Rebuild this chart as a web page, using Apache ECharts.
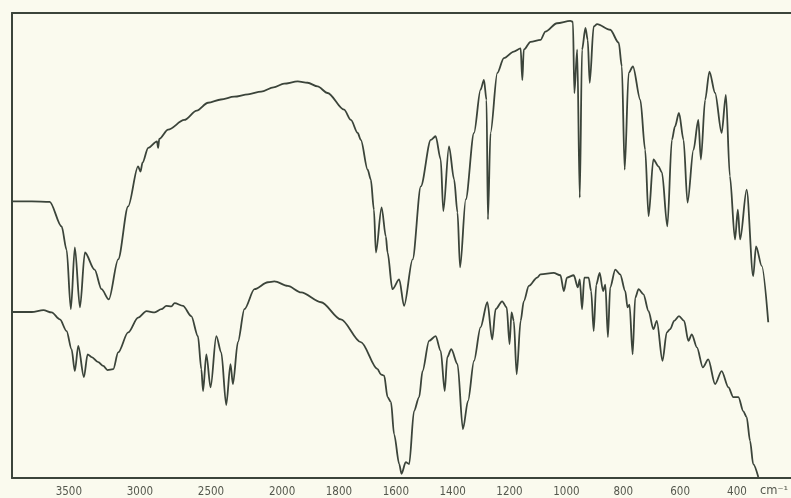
<!DOCTYPE html>
<html>
<head>
<meta charset="utf-8">
<script src="https://cdn.jsdelivr.net/npm/echarts@6/dist/echarts.min.js"></script>
<style>
  html, body { margin: 0; padding: 0; background: #fafaee; }
  #chart { width: 791px; height: 498px; }
</style>
</head>
<body>
<div id="chart"></div>
<script>
// wavenumber ticks printed under the chart (cm-1)
const tickWn = [3500, 3000, 2500, 2000, 1800, 1600, 1400, 1200, 1000, 800, 600, 400]

// upper trace: [wavenumber, transmittance %]
const upperTrace = [
  [3900, 59.5], [3761, 59.5], [3635, 59.4], [3551, 54.1], [3516, 49.1], [3486, 36.3],
  [3458, 49.6], [3422, 36.7], [3387, 48.5], [3319, 44.8], [3270, 40.6], [3219, 38.4],
  [3153, 47.0], [3083, 58.4], [3013, 67.0], [2996, 65.9], [2982, 67.8], [2942, 71.0],
  [2880, 72.4], [2872, 71.0], [2864, 72.9], [2802, 74.9], [2688, 77.0], [2600, 79.0],
  [2521, 80.7], [2430, 81.4], [2337, 82.0], [2240, 82.5], [2147, 83.1], [2060, 84.0],
  [1993, 84.8], [1945, 85.3], [1910, 85.0], [1875, 84.2], [1840, 82.8],
  [1782, 79.2], [1758, 77.0], [1734, 74.2], [1723, 72.7], [1699, 66.3], [1688, 64.2],
  [1677, 57.7], [1670, 48.5], [1650, 58.2], [1635, 51.9], [1629, 48.5], [1612, 40.6],
  [1588, 42.7], [1571, 37.0], [1541, 47.0], [1512, 62.7], [1477, 72.7], [1460, 73.5],
  [1442, 68.5], [1433, 57.4], [1413, 71.3], [1395, 64.2], [1383, 57.1], [1374, 45.3],
  [1354, 59.9], [1325, 74.2], [1302, 83.5], [1290, 85.6], [1281, 81.3], [1276, 55.6],
  [1267, 74.2], [1243, 87.1], [1220, 90.3], [1185, 91.7], [1161, 92.4], [1155, 85.6],
  [1150, 92.1], [1126, 93.8], [1091, 94.2], [1074, 96.0], [1033, 97.8], [986, 98.3],
  [977, 98.1], [972, 82.8], [962, 92.1], [953, 60.3], [945, 92.1], [933, 96.8],
  [925, 94.2], [918, 85.0], [904, 97.1], [892, 97.6], [846, 96.4], [816, 93.6],
  [805, 88.5], [795, 66.3], [781, 87.1], [766, 88.5], [740, 81.3], [723, 70.6],
  [711, 56.3], [694, 68.5], [676, 67.0], [664, 65.7], [645, 54.1], [629, 72.7],
  [618, 75.6], [604, 78.5], [588, 72.7], [574, 59.2], [553, 70.6], [536, 77.0],
  [527, 68.5], [512, 81.3], [497, 87.4], [477, 82.8], [454, 74.2], [439, 82.4],
  [425, 64.9], [407, 51.3], [397, 57.7], [389, 51.3], [366, 62.0], [343, 43.4],
  [333, 49.8], [313, 45.6], [290, 33.5]
]

// lower trace: [wavenumber, transmittance %]
const lowerTrace = [
  [3900, 35.7], [3761, 35.7], [3679, 36.1], [3621, 35.6], [3563, 34.1], [3516, 31.6],
  [3481, 27.7], [3458, 23.0], [3434, 28.4], [3394, 21.7], [3368, 26.6], [3340, 26.0],
  [3293, 24.9], [3258, 24.1], [3228, 23.2], [3188, 23.4], [3153, 27.0], [3083, 31.3],
  [3013, 34.5], [2954, 35.9], [2896, 35.6], [2849, 36.3], [2814, 37.0], [2779, 36.9],
  [2756, 37.6], [2697, 37.0], [2639, 34.8], [2592, 30.5], [2568, 23.4], [2556, 18.7],
  [2533, 26.6], [2503, 19.5], [2463, 30.5], [2428, 27.0], [2393, 15.7], [2363, 24.5],
  [2346, 20.2], [2311, 29.2], [2265, 36.3], [2194, 40.6], [2100, 42.1], [2054, 42.3],
  [1980, 41.3], [1933, 39.9], [1863, 37.8], [1793, 34.1], [1723, 29.2], [1664, 23.4],
  [1653, 22.3], [1641, 22.0], [1629, 17.4], [1617, 16.3], [1606, 9.4], [1588, 3.0],
  [1580, 0.9], [1565, 3.4], [1553, 3.0], [1536, 14.4], [1518, 17.4], [1506, 23.0],
  [1483, 29.5], [1460, 30.5], [1442, 27.3], [1428, 18.7], [1419, 26.0], [1405, 27.7],
  [1383, 24.5], [1364, 10.5], [1346, 16.6], [1325, 25.2], [1302, 32.4], [1278, 37.8],
  [1261, 29.8], [1249, 36.3], [1226, 38.0], [1210, 36.7], [1200, 28.8], [1193, 35.6],
  [1185, 33.8], [1175, 22.3], [1161, 33.8], [1150, 38.0], [1132, 41.3], [1103, 43.1],
  [1091, 43.8], [1045, 44.1], [1021, 43.6], [1009, 40.2], [998, 43.1], [974, 43.6],
  [960, 41.0], [953, 42.7], [945, 36.3], [937, 43.1], [922, 43.1], [913, 40.2],
  [904, 31.6], [895, 41.6], [883, 44.1], [871, 40.2], [863, 41.6], [854, 30.3],
  [846, 41.0], [828, 44.8], [811, 43.8], [793, 40.2], [785, 36.7], [778, 37.3],
  [767, 26.6], [758, 38.8], [746, 40.6], [729, 39.5], [711, 35.9], [694, 32.0],
  [682, 33.8], [662, 25.2], [647, 31.3], [635, 32.0], [621, 33.8], [604, 34.8],
  [586, 33.8], [571, 29.5], [559, 30.9], [541, 28.1], [520, 23.8], [501, 25.5],
  [477, 20.2], [454, 23.0], [430, 19.5], [413, 17.4], [395, 17.4], [378, 14.4],
  [366, 13.1], [354, 8.0], [343, 3.0], [325, 0.2]
]

// chart paper changes scale at 2000 cm-1: half the spread above it
function toPos (wn) {
  return wn >= 2000 ? (4000 - wn) / 2 : 1000 + (2000 - wn)
}
function toWn (pos) {
  return pos <= 1000 ? 4000 - 2 * pos : 3000 - pos
}

const ink = '#3b443a'
const lineStyle = { color: ink, width: 1.8 }

const chart = echarts.init(document.getElementById('chart'))
chart.setOption({
  backgroundColor: '#fafaee',
  animation: false,
  grid: { left: 12, right: 0, top: 13, bottom: 19 },
  xAxis: [
    {
      type: 'value',
      min: toPos(3900),
      max: toPos(210),
      axisLine: { lineStyle: { color: ink, width: 2 } },
      axisTick: { show: false },
      splitLine: { show: false },
      axisLabel: {
        customValues: tickWn.map(toPos),
        formatter: v => String(Math.round(toWn(v))),
        color: '#55584e',
        fontFamily: 'Liberation Sans Narrow, DejaVu Sans Condensed, DejaVu Sans',
        fontSize: 11.5,
        margin: 8
      }
    },
    {
      type: 'value',
      position: 'top',
      min: toPos(3900),
      max: toPos(210),
      axisLine: { lineStyle: { color: ink, width: 2 } },
      axisTick: { show: false },
      axisLabel: { show: false },
      splitLine: { show: false }
    }
  ],
  yAxis: {
    type: 'value',
    min: 0,
    max: 100,
    axisLine: { show: true, lineStyle: { color: ink, width: 2 } },
    axisTick: { show: false },
    axisLabel: { show: false },
    splitLine: { show: false }
  },
  graphic: [
    {
      type: 'text',
      left: 760,
      top: 485,
      style: {
        text: 'cm⁻¹',
        fill: '#55584e',
        font: '11.5px "Liberation Sans Narrow", "DejaVu Sans"'
      }
    }
  ],
  series: [
    {
      name: 'upper',
      type: 'line',
      showSymbol: false,
      smooth: 0.3,
      smoothMonotone: 'x',
      lineStyle,
      data: upperTrace.map(d => [toPos(d[0]), d[1]])
    },
    {
      name: 'lower',
      type: 'line',
      showSymbol: false,
      smooth: 0.3,
      smoothMonotone: 'x',
      lineStyle,
      data: lowerTrace.map(d => [toPos(d[0]), d[1]])
    }
  ]
})
</script>
</body>
</html>
